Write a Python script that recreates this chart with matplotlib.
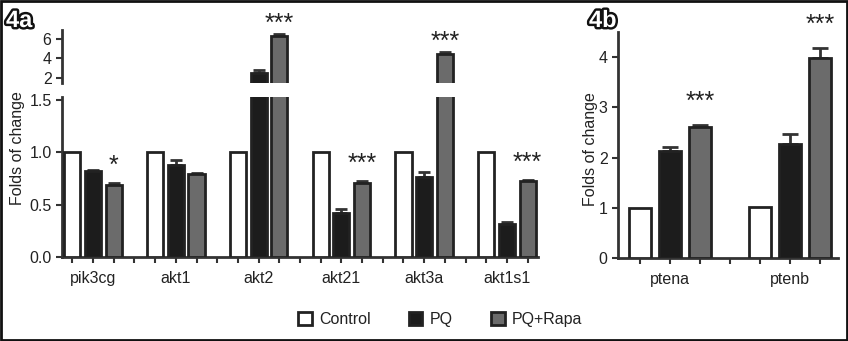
import matplotlib
matplotlib.use("Agg")
import matplotlib.pyplot as plt
import matplotlib.patheffects as pe
from matplotlib.patches import Patch, Rectangle
import numpy as np

plt.rcParams['font.family'] = ['Liberation Sans', 'DejaVu Sans']

# ---------------- data ----------------
genes_a = ['pik3cg', 'akt1', 'akt2', 'akt21', 'akt3a', 'akt1s1']
control_a = [1.0, 1.0, 1.0, 1.0, 1.0, 1.0]
pq_a = [0.82, 0.876, 2.55, 0.42, 0.765, 0.32]
pq_a_err = [0.015, 0.05, 0.25, 0.04, 0.045, 0.01]
rapa_a = [0.69, 0.79, 6.3, 0.705, 4.48, 0.727]
rapa_a_err = [0.02, 0.015, 0.2, 0.022, 0.2, 0.01]
stars_a = ['*', '', '***', '***', '***', '***']

genes_b = ['ptena', 'ptenb']
control_b = [1.0, 1.02]
pq_b = [2.13, 2.27]
pq_b_err = [0.09, 0.19]
rapa_b = [2.61, 3.99]
rapa_b_err = [0.03, 0.19]
stars_b = ['***', '***']

series_names = ['Control', 'PQ', 'PQ+Rapa']
colors = ['#ffffff', '#1c1c1c', '#6b6b6b']
edge = '#222222'
txt = '#222222'
fs = 11.5

fig = plt.figure(figsize=(8.48, 3.41), dpi=100)

def style(ax):
    for s in ['top', 'right']:
        ax.spines[s].set_visible(False)
    for s in ['left', 'bottom']:
        ax.spines[s].set_linewidth(2)
        ax.spines[s].set_color('#333333')
    ax.tick_params(direction='out', length=4, width=1.5, color='#333333',
                   labelsize=fs, labelcolor=txt)

def draw_bars(ax, series, errs, width, capsize):
    n = len(series[0])
    for k, (vals, err) in enumerate(zip(series, errs)):
        xs = np.arange(n) * 4 + k
        ax.bar(xs, vals, width=width, color=colors[k], edgecolor=edge,
               linewidth=2, zorder=3)
        if err is not None:
            ax.errorbar(xs, vals, yerr=[np.zeros(n), err], fmt='none',
                        ecolor='#333333', elinewidth=2, capsize=capsize,
                        capthick=2, zorder=2)

# ---------------- panel 4a ----------------
L, R = 62 / 848, 538 / 848
ax_lo = fig.add_axes([L, 1 - 257 / 341, R - L, (257 - 97) / 341])
ax_hi = fig.add_axes([L, 1 - 83 / 341, R - L, (83 - 30) / 341])
for ax in (ax_lo, ax_hi):
    draw_bars(ax, [control_a, pq_a, rapa_a], [None, pq_a_err, rapa_a_err], 0.78, 4.5)
    style(ax)
    ax.set_xlim(-0.5, 22.5)

ax_lo.set_ylim(0, 1.53)
ax_lo.set_yticks([0, 0.5, 1.0, 1.5])
ax_lo.set_yticklabels(['0.0', '0.5', '1.0', '1.5'])
slots = np.arange(23)
ax_lo.set_xticks(slots)
labels = [''] * 23
for i, g in enumerate(genes_a):
    labels[i * 4 + 1] = g
ax_lo.set_xticklabels(labels)
ax_lo.tick_params(axis='x', pad=6)

ax_hi.set_ylim(1.5, 6.9)
ax_hi.set_yticks([2, 4, 6])
ax_hi.spines['bottom'].set_visible(False)
ax_hi.set_xticks([])

ax_lo.set_ylabel('Folds of change', fontsize=fs, color=txt)
ax_lo.yaxis.set_label_coords(-0.078, 0.68)

# significance stars
for i, s in enumerate(stars_a):
    if not s:
        continue
    x = i * 4 + 2
    top = rapa_a[i] + rapa_a_err[i]
    if rapa_a[i] > 1.5:
        ax, off = ax_hi, -1.5
    else:
        ax, off = ax_lo, 3.5
    ax.annotate(s, (x, top), xytext=(0, off), textcoords='offset points',
                ha='center', va='bottom', fontsize=18, color=txt,
                annotation_clip=False)

# ---------------- panel 4b ----------------
Lb, Rb = 618 / 848, 838 / 848
axb = fig.add_axes([Lb, 1 - 258 / 341, Rb - Lb, (258 - 32) / 341])
draw_bars(axb, [control_b, pq_b, rapa_b], [None, pq_b_err, rapa_b_err], 0.72, 6)
style(axb)
axb.set_xlim(-0.73, 6.6)
axb.set_ylim(0, 4.5)
axb.set_yticks([0, 1, 2, 3, 4])
axb.set_xticks(np.arange(7))
lb = [''] * 7
for i, g in enumerate(genes_b):
    lb[i * 4 + 1] = g
axb.set_xticklabels(lb)
axb.tick_params(axis='x', pad=6)
axb.set_ylabel('Folds of change', fontsize=fs, color=txt)
axb.yaxis.set_label_coords(-0.09, 0.48)
for i, s in enumerate(stars_b):
    x = i * 4 + 2
    top = rapa_b[i] + rapa_b_err[i]
    axb.annotate(s, (x, top), xytext=(0, 8), textcoords='offset points',
                 ha='center', va='bottom', fontsize=18, color=txt,
                 annotation_clip=False)

# ---------------- panel labels ----------------
for label, x in [('4a', 6 / 848), ('4b', 589 / 848)]:
    fig.text(x, 1 - 27 / 341, label, fontsize=17, fontweight='bold',
             color='white', ha='left', va='baseline',
             path_effects=[pe.withStroke(linewidth=3.5, foreground='#111111')])

# ---------------- legend ----------------
handles = [Patch(facecolor=c, edgecolor=edge, linewidth=2) for c in colors]
fig.legend(handles, series_names, loc='center', bbox_to_anchor=(0.519, 0.062),
           ncol=3, frameon=False, fontsize=fs, handlelength=0.85,
           handleheight=0.85, handletextpad=0.45, columnspacing=2.4,
           labelcolor=txt)

# ---------------- figure border ----------------
fig.patches.append(Rectangle((0.0015, 0.003), 0.997, 0.994, transform=fig.transFigure,
                             fill=False, edgecolor='#111111', linewidth=2))

fig.savefig('out.png', dpi=100)
